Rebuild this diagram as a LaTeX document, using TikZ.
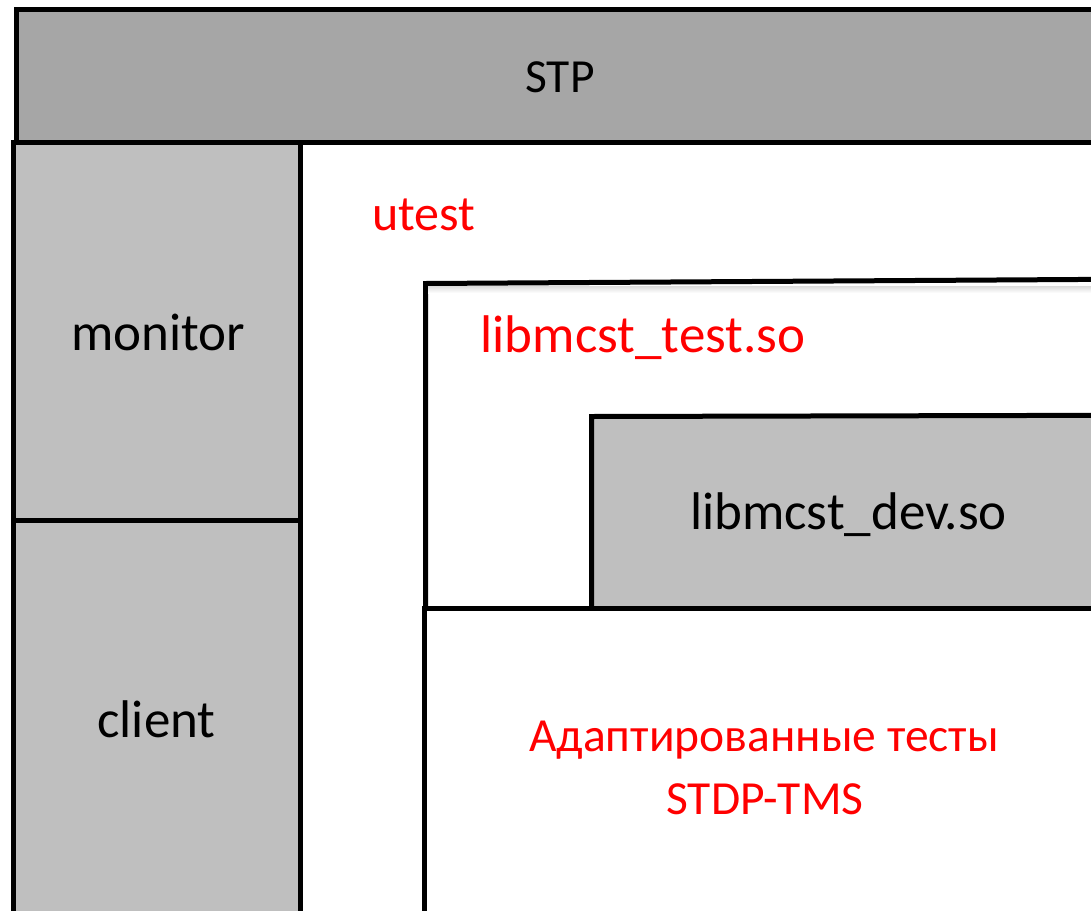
\documentclass[tikz,border=0pt]{standalone}
\usepackage{fontspec}
\setmainfont{Carlito}
\definecolor{stpgray}{HTML}{A6A6A6}
\definecolor{boxgray}{HTML}{BFBFBF}
\definecolor{labelred}{HTML}{FF0000}
\tikzset{
  frame/.style={draw=black, line width=5pt},
  blacklabel/.style={anchor=base, inner sep=0pt, text=black,
    font=\fontsize{53}{60}\selectfont},
  redlabel/.style={anchor=base, inner sep=0pt, text=labelred,
    font=\fontsize{53}{60}\selectfont},
}
\begin{document}
\begin{tikzpicture}[x=1pt,y=-1pt]
\useasboundingbox (0,0) rectangle (1091,910);
\fill[white] (0,0) rectangle (1091,910);
\begin{scope}
  \clip (0,0) rectangle (1091,910);
  % layer bands
  \filldraw[frame, fill=stpgray] (16,9.5) rectangle (1110,142.5);
  \filldraw[frame, fill=boxgray] (13.5,142.5) rectangle (300.5,520.5);
  \filldraw[frame, fill=boxgray] (13.5,520.5) rectangle (300,930);
  % library container
  \filldraw[frame, fill=white] (425.5,608.5) -- (425.5,283.5) -- (1110,279.3) -- (1110,608.5) -- cycle;
  \shade[top color=black!14, bottom color=white] (428,286) rectangle (1091,293);
  % device library
  \filldraw[frame, fill=boxgray] (591.5,608.5) -- (591.5,416.5) -- (1110,415.3) -- (1110,608.5) -- cycle;
  % adapted tests area
  \filldraw[frame, fill=white] (424.5,930) -- (424.5,608.5) -- (1110,608.5) -- (1110,930);
\end{scope}
% labels
\node[blacklabel, font=\fontsize{47.5}{55}\selectfont] (stp) at (560,92) {STP};
\node[blacklabel] (monitor) at (158,350) {monitor};
\node[blacklabel] (client) at (156.5,737) {client};
\node[blacklabel] (dev) at (848.5,529) {libmcst\_dev.so};
\node[redlabel, font=\fontsize{50}{56}\selectfont] (utest) at (424,230) {utest};
\node[redlabel] (testlib) at (643,352.7) {libmcst\_test.so};
\node[redlabel, font=\fontsize{47.5}{55}\selectfont] (adapted) at (764,751.8) {Адаптированные тесты};
\node[redlabel, font=\fontsize{47.5}{55}\selectfont] (stdp) at (765,814) {STDP-TMS};
\end{tikzpicture}
\end{document}
